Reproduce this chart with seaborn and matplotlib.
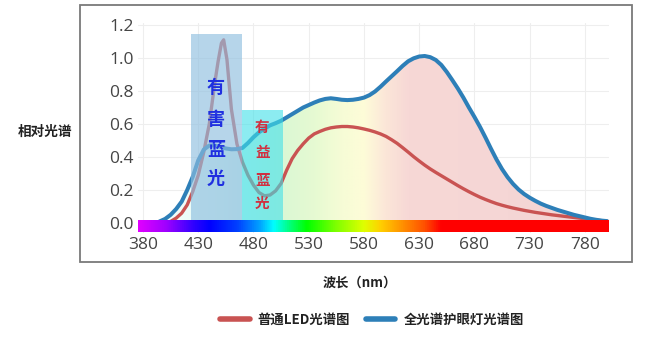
import numpy as np
import pandas as pd
import matplotlib
matplotlib.use("Agg")
import matplotlib.pyplot as plt
from matplotlib.colors import LinearSegmentedColormap
from matplotlib.patches import Rectangle
from matplotlib.lines import Line2D
import seaborn as sns

# ---------------- data ----------------
wl_led = [400, 405, 410, 415, 420, 425, 430, 435, 440, 445, 448, 451, 453, 456, 460, 465,
          470, 475, 480, 485, 490, 495, 500, 505, 510, 515, 520, 525, 530, 535, 540, 545,
          550, 555, 560, 565, 570, 575, 580, 585, 590, 595, 600, 605, 610, 615, 620, 625,
          630, 635, 640, 645, 650, 655, 660, 665, 670, 675, 680, 685, 690, 695, 700, 705,
          710, 715, 720, 725, 730, 735, 740, 745, 750, 755, 760, 765, 770, 775, 780, 785,
          790, 795, 800]
led = [0.0, 0.01, 0.03, 0.06, 0.11, 0.19, 0.29, 0.43, 0.60, 0.85, 0.98, 1.09, 1.11, 0.99, 0.69, 0.48,
       0.37, 0.29, 0.23, 0.185, 0.165, 0.17, 0.195, 0.24, 0.32, 0.39, 0.44, 0.48, 0.515, 0.54, 0.555, 0.568,
       0.577, 0.582, 0.585, 0.585, 0.582, 0.577, 0.57, 0.562, 0.552, 0.54, 0.525, 0.505, 0.483, 0.457, 0.43, 0.402,
       0.376, 0.351, 0.328, 0.307, 0.287, 0.267, 0.247, 0.227, 0.208, 0.19, 0.173, 0.157, 0.143, 0.13, 0.118, 0.108,
       0.099, 0.091, 0.084, 0.077, 0.071, 0.065, 0.06, 0.055, 0.05, 0.046, 0.042, 0.038, 0.034, 0.03, 0.026, 0.022,
       0.018, 0.015, 0.012]

wl_full = [393, 395, 400, 405, 410, 415, 420, 425, 430, 435, 440, 445, 450, 455, 460, 465, 470, 475,
           480, 485, 490, 495, 500, 505, 510, 515, 520, 525, 530, 535, 540, 545, 550, 555, 560, 565,
           570, 575, 580, 585, 590, 595, 600, 605, 610, 615, 620, 625, 630, 635, 640, 645, 650, 655,
           660, 665, 670, 675, 680, 685, 690, 695, 700, 705, 710, 715, 720, 725, 730, 735, 740, 745,
           750, 755, 760, 765, 770, 775, 780, 785, 790, 795, 800]
full = [0.0, 0.01, 0.025, 0.05, 0.085, 0.13, 0.2, 0.28, 0.38, 0.445, 0.47, 0.47, 0.462, 0.452, 0.447, 0.448, 0.455, 0.485,
        0.52, 0.55, 0.572, 0.592, 0.605, 0.62, 0.64, 0.66, 0.68, 0.70, 0.715, 0.73, 0.743, 0.752, 0.756, 0.752, 0.747, 0.745,
        0.747, 0.752, 0.76, 0.775, 0.797, 0.826, 0.858, 0.889, 0.92, 0.952, 0.98, 0.998, 1.009, 1.012, 1.005, 0.988, 0.958, 0.915,
        0.866, 0.815, 0.76, 0.70, 0.643, 0.583, 0.518, 0.45, 0.385, 0.327, 0.278, 0.237, 0.203, 0.176, 0.154, 0.135, 0.118, 0.104,
        0.092, 0.08, 0.07, 0.06, 0.05, 0.042, 0.034, 0.026, 0.02, 0.015, 0.012]

series_names = ["普通LED光谱图", "全光谱护眼灯光谱图"]
series_colors = ["#c95352", "#2d7fb8"]
x_ticks = [380, 430, 480, 530, 580, 630, 680, 730, 780]
y_ticks = [0.0, 0.2, 0.4, 0.6, 0.8, 1.0, 1.2]
harm_band = [423, 470, 1.145]      # x0, x1, top
good_band = [470, 507, 0.685]
harm_text = "有害蓝光"
good_text = "有益蓝光"
x_label = "波长（nm）"
y_label = "相对光谱"

# ---------------- figure ----------------
sns.set_theme(style="white")
plt.rcParams['font.family'] = ['Noto Sans CJK SC', 'DejaVu Sans']

fig = plt.figure(figsize=(6.45, 3.38), dpi=100)
ax = fig.add_axes([0.214, 0.3107, 0.730, 0.6203])
XMIN, XMAX = 375.5, 801.7
YMIN, YMAX = -0.06, 1.21


def pos(nm):
    return min(max((nm - XMIN) / (XMAX - XMIN), 0.0), 1.0)


df = pd.concat([
    pd.DataFrame({"wl": wl_led, "val": led, "s": series_names[0]}),
    pd.DataFrame({"wl": wl_full, "val": full, "s": series_names[1]}),
])

# pastel fill under the full-spectrum curve
pastel = LinearSegmentedColormap.from_list("pastel", [
    (0.0, "#ffffff"), (pos(470), "#d8f8f0"),
    (pos(510), "#dcf8d4"), (pos(535), "#e6fad2"),
    (pos(560), "#f6fcd6"), (pos(580), "#fefcd8"),
    (pos(600), "#fbe6d8"), (pos(620), "#f7d8d6"),
    (1.0, "#f3d4d4")])
grad = np.linspace(0, 1, 512).reshape(1, -1)
poly = ax.fill_between(wl_full, full, 0, color="none", lw=0)
im = ax.imshow(grad, cmap=pastel, aspect="auto", extent=(XMIN, XMAX, 0, 1.1),
               origin="lower", zorder=1, interpolation="bilinear")
im.set_clip_path(poly.get_paths()[0], transform=ax.transData)

sns.lineplot(data=df, x="wl", y="val", hue="s", palette=series_colors,
             hue_order=series_names, sort=True, legend=False, ax=ax, zorder=2)
for line, lw in zip(ax.lines, [2.4, 2.9]):
    line.set_linewidth(lw)
    line.set_solid_capstyle("round")
    line.set_solid_joinstyle("round")

# bands
ax.add_patch(Rectangle((harm_band[0], 0), harm_band[1] - harm_band[0], harm_band[2],
                       facecolor="#8fbfe0", alpha=0.65, lw=0, zorder=3))
ax.add_patch(Rectangle((good_band[0], 0), good_band[1] - good_band[0], good_band[2],
                       facecolor="#40e0e8", alpha=0.6, lw=0, zorder=3))
for ch, yv in zip(harm_text, [0.824, 0.630, 0.445, 0.270]):
    ax.text(446, yv, ch, color="#1f2fe0", fontsize=13, fontweight="bold",
            ha="center", va="center", zorder=4)
for ch, yv in zip(good_text, [0.582, 0.430, 0.262, 0.122]):
    ax.text(488, yv, ch, color="#d03040", fontsize=10.5, fontweight="bold",
            ha="center", va="center", zorder=4)

# spectrum bar
spec = LinearSegmentedColormap.from_list("spec", [
    (0.0, "#e000ff"), (pos(400), "#a000ff"),
    (pos(425), "#3000ff"), (pos(440), "#0000ff"),
    (pos(465), "#0040ff"), (pos(485), "#00a0ff"),
    (pos(498), "#00ffff"), (pos(512), "#00ff80"),
    (pos(528), "#00ff00"), (pos(555), "#80ff00"),
    (pos(580), "#e0ff00"), (pos(595), "#ffd000"),
    (pos(615), "#ff9000"), (pos(635), "#ff5000"),
    (pos(650), "#ff0000"), (1.0, "#ff0000")])
ax.imshow(grad, cmap=spec, aspect="auto", extent=(XMIN, XMAX, -0.055, 0.012),
          origin="lower", zorder=5, interpolation="bilinear")

ax.set_xlim(XMIN, XMAX)
ax.set_ylim(YMIN, YMAX)
ax.set_xticks(x_ticks)
ax.set_yticks(y_ticks)
ax.set_yticklabels([f"{v:.1f}" for v in y_ticks])
ax.tick_params(axis="both", length=0, labelsize=12.5, labelcolor="#454545", pad=3)
for lab in ax.get_xticklabels() + ax.get_yticklabels():
    lab.set_family(["Open Sans", "DejaVu Sans"])
ax.set_xlabel("")
ax.set_ylabel("")
ax.grid(True, color="#eeeeee", lw=0.8, zorder=0)
ax.set_axisbelow(True)
for sp in ax.spines.values():
    sp.set_visible(False)

# outer frame
fig.patches.append(Rectangle((80 / 645, 1 - 262 / 338), (632 - 80) / 645, (262 - 5) / 338,
                             transform=fig.transFigure, fill=False, edgecolor="#7a7a7a", lw=1.3))

fig.text(45 / 645, 1 - 132 / 338, y_label, ha="center", va="center",
         fontsize=9.8, fontweight="bold", color="#222222")
fig.text(360 / 645, 1 - 283 / 338, x_label, ha="center", va="center",
         fontsize=9.5, fontweight="bold", color="#222222")

handles = [Line2D([0], [0], color=c, lw=4, solid_capstyle="round") for c in series_colors]
fig.legend(handles, series_names, loc="center", bbox_to_anchor=(372 / 645, 1 - 320 / 338),
           ncol=2, frameon=False, handlelength=2.2, columnspacing=1.2, handletextpad=0.6,
           prop={"size": 9.6, "weight": "bold", "family": ["Noto Sans CJK SC", "DejaVu Sans"]},
           labelcolor="#222222")

fig.savefig("out.png", dpi=100)
